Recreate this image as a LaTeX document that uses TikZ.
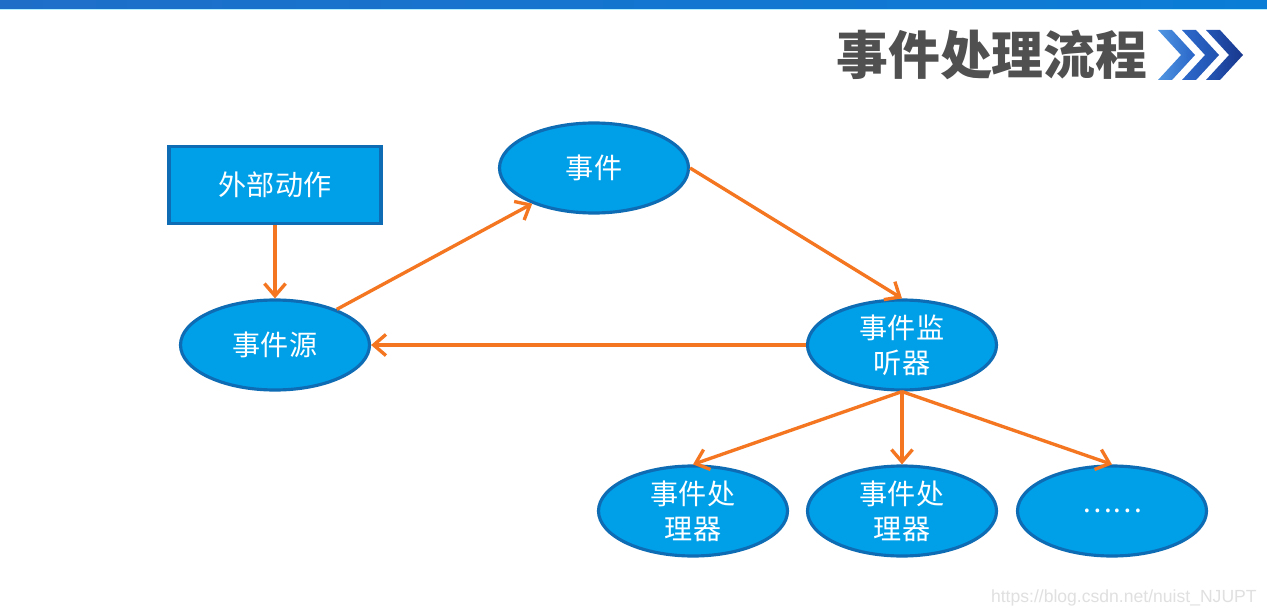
\documentclass[tikz,border=0pt]{standalone}
\usepackage{fontspec}
\newfontfamily\cjk{Noto Sans CJK SC}
\setsansfont{Liberation Sans}
\usetikzlibrary{arrows.meta,shapes.geometric}
\definecolor{nodefill}{RGB}{0,160,233}
\definecolor{nodeedge}{RGB}{14,108,180}
\definecolor{arr}{RGB}{245,118,32}
\definecolor{titlegray}{RGB}{80,80,80}
\definecolor{barL}{RGB}{30,110,200}
\definecolor{barR}{RGB}{10,125,215}
\definecolor{chevA}{RGB}{80,150,225}
\definecolor{chevB}{RGB}{40,100,200}
\definecolor{chevC}{RGB}{25,55,140}
\tikzset{
  ev/.style={ellipse,draw=nodeedge,fill=nodefill,line width=1.8pt,minimum width=189\un,minimum height=90\un,inner sep=0pt,text=white,font=\cjk\fontsize{16}{20}\selectfont,align=center},
  act/.style={rectangle,draw=nodeedge,fill=nodefill,line width=1.8pt,minimum width=212\un,minimum height=77\un,inner sep=0pt,text=white,font=\cjk\fontsize{16}{20}\selectfont},
  flow/.style={draw=arr,line width=1.9pt,-{Straight Barb[length=7pt,width=12pt,line width=1.9pt]}},
}
\newlength{\un}
\setlength{\un}{0.02cm}
\begin{document}
\begin{tikzpicture}[x=0.02cm,y=-0.02cm]
\useasboundingbox (0,0) rectangle (1267,615);
\fill[white] (0,0) rectangle (1267,615);
% top bar
\shade[left color=barL,right color=barR] (0,0) rectangle (1267,9);
\fill[blue!20!cyan!30] (0,9) rectangle (1267,10.5);
% title
\node[anchor=west,text=titlegray,font=\cjk\bfseries\fontsize{29.5}{31}\selectfont,inner sep=0pt] (title) at (836,55) {事件处理流程};
\shade[left color=chevA,right color=chevB] (1158,30) -- (1172,30) -- (1195,55) -- (1172,80) -- (1158,80) -- (1181,55) -- cycle;
\shade[left color=chevB!90!chevA,right color=chevB!60!chevC] (1182,30) -- (1196,30) -- (1219,55) -- (1196,80) -- (1182,80) -- (1205,55) -- cycle;
\shade[left color=chevB!70!chevC,right color=chevC] (1206,30) -- (1220,30) -- (1243,55) -- (1220,80) -- (1206,80) -- (1229,55) -- cycle;
% nodes
\node[act] (ext) at (275,185) {外部动作};
\node[ev] (src) at (275,345) {事件源};
\node[ev] (evt) at (594,168) {事件};
\node[ev] (lis) at (902,345) {事件监\\听器};
\node[ev] (h1) at (693,511) {事件处\\理器};
\node[ev] (h2) at (902,511) {事件处\\理器};
\node[ev] (h3) at (1112,511) {……};
% arrows
\draw[flow] (ext.south) -- (src.north);
\draw[flow] (src.30) -- (evt.210);
\draw[flow] (evt.east) -- (lis.north);
\draw[flow] (lis.west) -- (src.east);
\draw[flow] (lis.south) -- (h1.north);
\draw[flow] (lis.south) -- (h2.north);
\draw[flow] (lis.south) -- (h3.north);
% watermark
\node[anchor=east,text=black!12,font=\sffamily\fontsize{10}{12}\selectfont,inner sep=0pt] (wm) at (1257,598) {https://blog.csdn.net/nuist\_NJUPT};
\end{tikzpicture}
\end{document}
